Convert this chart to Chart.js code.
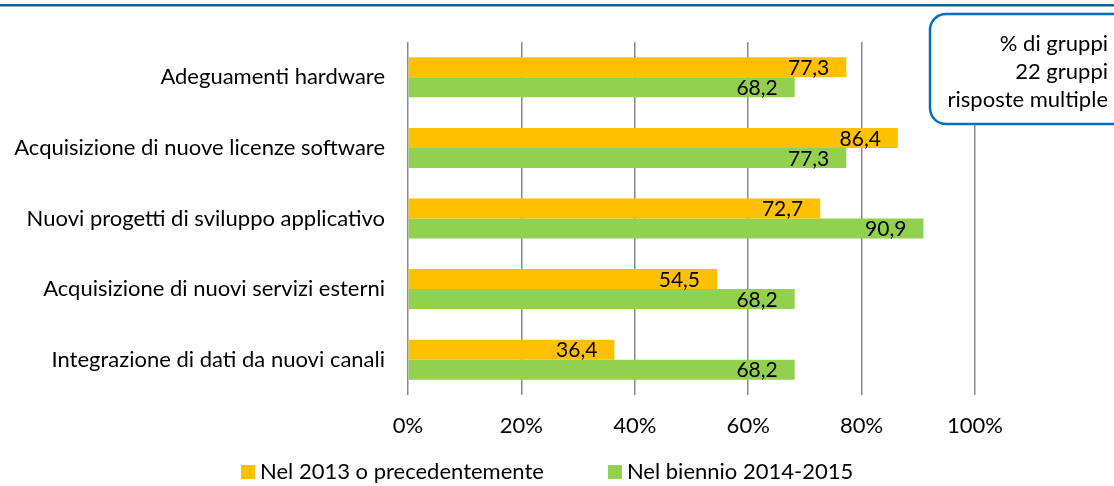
<!DOCTYPE html>
<html>
<head>
<meta charset="utf-8">
<script src="https://cdn.jsdelivr.net/npm/chart.js@4.4.0/dist/chart.umd.min.js"></script>
<style>
  html, body { margin: 0; padding: 0; background: #fff; overflow: hidden; }
  #wrap { width: 1114px; height: 486px; position: relative; }
</style>
</head>
<body>
<div id="wrap"><canvas id="chart"></canvas></div>
<script>
const categories = [
  "Adeguamenti hardware",
  "Acquisizione di nuove licenze software",
  "Nuovi progetti di sviluppo applicativo",
  "Acquisizione di nuovi servizi esterni",
  "Integrazione di dati da nuovi canali",
];
const seriesNames = ["Nel 2013 o precedentemente", "Nel biennio 2014-2015"];
const values2013 = [77.3, 86.4, 72.7, 54.5, 36.4];
const values2015 = [68.2, 77.3, 90.9, 68.2, 68.2];
const noteLines = ["% di gruppi", "22 gruppi", "risposte multiple"];

const FONT = "Lato";
const FONT_SIZE = 22;
const LABEL_SIZE = 21;
Chart.defaults.font.family = FONT;
Chart.defaults.font.size = FONT_SIZE;
Chart.defaults.color = "#000";

const fmt = (v) => v.toFixed(1).replace(".", ",");

// white page + blue rule at the very top
const framePlugin = {
  id: "frame",
  beforeDraw(chart) {
    const ctx = chart.ctx;
    ctx.save();
    ctx.fillStyle = "#fff";
    ctx.fillRect(0, 0, chart.width, chart.height);
    ctx.fillStyle = "#00669c";
    ctx.fillRect(0, 4, chart.width, 2.5);
    ctx.restore();
  },
};

// value labels, inside the bar end
const barLabels = {
  id: "barLabels",
  afterDatasetsDraw(chart) {
    const ctx = chart.ctx;
    ctx.save();
    ctx.font = LABEL_SIZE + "px " + FONT;
    ctx.fillStyle = "#000";
    ctx.textAlign = "right";
    ctx.textBaseline = "middle";
    chart.data.datasets.forEach((ds, i) => {
      chart.getDatasetMeta(i).data.forEach((bar, j) => {
        ctx.fillText(fmt(ds.data[j]), bar.x - 17, bar.y + 1);
      });
    });
    ctx.restore();
  },
};

// note box top right
const noteBox = {
  id: "noteBox",
  afterDraw(chart) {
    const ctx = chart.ctx;
    ctx.save();
    ctx.beginPath();
    ctx.roundRect(930, 14, 200, 110, 16);
    ctx.fillStyle = "#fff";
    ctx.fill();
    ctx.lineWidth = 2.5;
    ctx.strokeStyle = "#0070c0";
    ctx.stroke();
    ctx.font = FONT_SIZE + "px " + FONT;
    ctx.fillStyle = "#000";
    ctx.textAlign = "right";
    ctx.textBaseline = "middle";
    noteLines.forEach((t, i) => ctx.fillText(t, 1108, 44 + i * 28));
    ctx.restore();
  },
};

// legend row under the axis
const legendRow = {
  id: "legendRow",
  afterDraw(chart) {
    const ctx = chart.ctx;
    ctx.save();
    ctx.font = FONT_SIZE + "px " + FONT;
    ctx.textBaseline = "middle";
    ctx.textAlign = "left";
    let x = 241;
    const y = 472;
    chart.data.datasets.forEach((ds) => {
      ctx.fillStyle = ds.backgroundColor;
      ctx.fillRect(x, y - 7, 14, 14);
      ctx.fillStyle = "#000";
      ctx.fillText(ds.label, x + 19, y);
      x += 19 + ctx.measureText(ds.label).width + 64;
    });
    ctx.restore();
  },
};

new Chart(document.getElementById("chart"), {
  type: "bar",
  data: {
    labels: categories,
    datasets: [
      { label: seriesNames[0], data: values2013, backgroundColor: "#ffc000" },
      { label: seriesNames[1], data: values2015, backgroundColor: "#92d050" },
    ],
  },
  options: {
    indexAxis: "y",
    responsive: true,
    maintainAspectRatio: false,
    animation: false,
    layout: { padding: { top: 42, right: 139, bottom: 31, left: 0 } },
    datasets: { bar: { categoryPercentage: 0.567, barPercentage: 1 } },
    plugins: { legend: { display: false }, tooltip: { enabled: false } },
    scales: {
      x: {
        min: 0,
        max: 100,
        ticks: { stepSize: 20, padding: 18, callback: (v) => v + "%" },
        grid: { color: "#8a8a8a", lineWidth: 1.5, drawTicks: false },
        border: { display: false },
        afterFit: (s) => { s.height = 60; },
      },
      y: {
        ticks: { padding: 23 },
        grid: { display: false, drawTicks: false },
        border: { display: false },
        afterFit: (s) => { s.width = 408; },
      },
    },
  },
  plugins: [framePlugin, barLabels, noteBox, legendRow],
});
</script>
</body>
</html>
